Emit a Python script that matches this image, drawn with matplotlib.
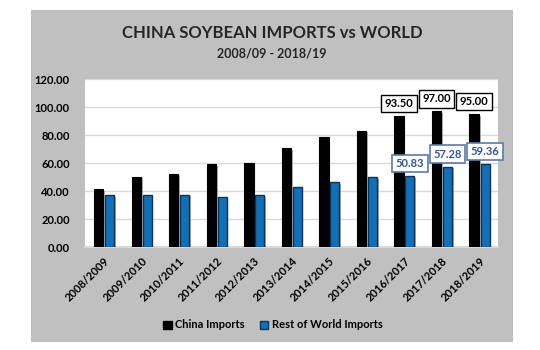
import matplotlib
matplotlib.use('Agg')
import matplotlib.pyplot as plt
import numpy as np
from matplotlib.patches import Rectangle, Patch
import matplotlib.patheffects as pe

plt.rcParams['font.family'] = ['Lato', 'DejaVu Sans']

years = ['2008/2009', '2009/2010', '2010/2011', '2011/2012', '2012/2013', '2013/2014',
         '2014/2015', '2015/2016', '2016/2017', '2017/2018', '2018/2019']
china = [41.1, 50.3, 52.3, 59.2, 59.9, 70.4, 78.4, 83.2, 93.50, 97.00, 95.00]
world = [36.8, 37.0, 37.5, 35.4, 37.0, 42.6, 46.2, 50.0, 50.83, 57.28, 59.36]
labelled = [8, 9, 10]

fig = plt.figure(figsize=(5.4, 3.5), dpi=100)
fig.patch.set_facecolor('white')
# gray chart panel
fig.add_artist(Rectangle((31 / 540, 1 - 342 / 350), 482 / 540, 332 / 350,
                         transform=fig.transFigure, facecolor='#C0C0C0',
                         edgecolor='none', zorder=0))

ax = fig.add_axes([85 / 540, 1 - 247 / 350, 413 / 540, 168 / 350])
ax.set_facecolor('white')

x = np.arange(len(years))
shadow = [pe.SimplePatchShadow(offset=(1.2, -1.2), shadow_rgbFace='#7F7F7F', alpha=0.6), pe.Normal()]
b1 = ax.bar(x - 0.135, china, width=0.25, color='black', edgecolor='black', linewidth=0.8, zorder=3)
b2 = ax.bar(x + 0.155, world, width=0.24, color='#1170B8', edgecolor='#0D3355', linewidth=1.0, zorder=3)
for b in list(b1) + list(b2):
    b.set_path_effects(shadow)

for i in labelled:
    ax.annotate(f'{china[i]:.2f}', (x[i] - 0.135, china[i]), xytext=(0, 9), textcoords='offset points',
                ha='center', va='center', fontsize=8, fontweight='bold', color='black', zorder=5,
                bbox=dict(boxstyle='square,pad=0.3', fc='white', ec='black', lw=1.0))
    ax.annotate(f'{world[i]:.2f}', (x[i] + 0.155, world[i]), xytext=(0, 9), textcoords='offset points',
                ha='center', va='center', fontsize=8, fontweight='bold', color='#2F5597', zorder=5,
                bbox=dict(boxstyle='square,pad=0.3', fc='white', ec='#5B7BA7', lw=1.2))

ax.set_xlim(-0.5, len(years) - 0.5)
ax.set_ylim(0, 120)
ax.set_yticks(np.arange(0, 121, 20))
ax.set_yticklabels([f'{v:.2f}' for v in np.arange(0, 121, 20)], fontsize=8, fontweight='bold')
ax.set_xticks(x)
ax.set_xticklabels(years, rotation=45, ha='right', rotation_mode='anchor', fontsize=8, fontweight='bold')
ax.tick_params(axis='both', length=0)
ax.tick_params(axis='y', pad=11)
ax.tick_params(axis='x', pad=6)
ax.grid(axis='y', color='#D9D9D9', linewidth=1.0, zorder=0)
ax.set_axisbelow(True)
for s in ['top', 'right', 'left']:
    ax.spines[s].set_visible(False)
ax.spines['bottom'].set_color('#D9D9D9')
ax.spines['bottom'].set_linewidth(1.5)

fig.text(272 / 540, 1 - 33 / 350, 'CHINA SOYBEAN IMPORTS vs WORLD', ha='center', va='center',
         fontsize=12, fontweight='bold', color='#262626')
fig.text(272 / 540, 1 - 53 / 350, '2008/09 - 2018/19', ha='center', va='center',
         fontsize=9, fontweight='bold', color='#262626')

handles = [Patch(facecolor='black', edgecolor='black', label='China Imports'),
           Patch(facecolor='#1170B8', edgecolor='#0D3355', label='Rest of World Imports')]
leg = fig.legend(handles=handles, loc='center', bbox_to_anchor=(273 / 540, 1 - 325 / 350),
                 ncol=2, frameon=False, fontsize=8, handlelength=0.75, handleheight=0.75,
                 handletextpad=0.3, columnspacing=1.4)
for t in leg.get_texts():
    t.set_fontweight('bold')

fig.savefig('out.png', dpi=100)
